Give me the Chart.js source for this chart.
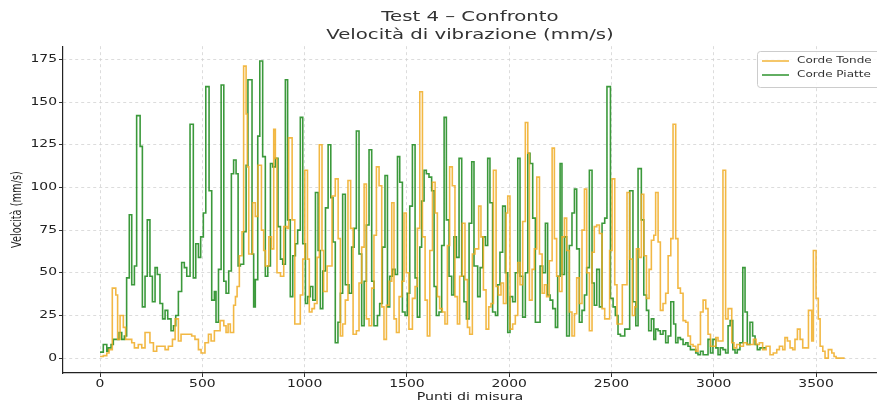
<!DOCTYPE html>
<html><head><meta charset="utf-8">
<script src="https://cdn.jsdelivr.net/npm/chart.js@4.4.1/dist/chart.umd.min.js"></script>
<style>html,body{margin:0;padding:0;background:#fff;overflow:hidden}</style>
</head><body>
<canvas id="c" width="877" height="407"></canvas>
<script>
const titleLines = ['Test 4 \u2013 Confronto', 'Velocit\u00e0 di vibrazione (mm/s)'];
const xTitle = 'Punti di misura';
const yTitle = 'Velocit\u00e0 (mm/s)';
const xTicks = [0, 500, 1000, 1500, 2000, 2500, 3000, 3500];
const yTicks = [0, 25, 50, 75, 100, 125, 150, 175];
const seriesNames = ['Corde Tonde', 'Corde Piatte'];

// Corde Tonde: step start positions and levels
const tondeX = [0,16,33,44,60,77,86,98,114,125,139,155,168,187,204,220,244,261,277,318,334,354,367,383,396,448,464,481,494,513,530,543,559,587,
605,616,626,637,653,662,670,681,694,702,714,720,727,746,759,772,789,800,808,825,838,849,857,865,882,898,914,922,939,952,979,991,1001,1014,1023,1036,1048,1061,1072,1085,1093,1110,1134,1150,1164,1175,1186,1199,1212,
1225,1237,1253,1266,1279,1291,1302,1315,1328,1339,1351,1364,1377,1388,1400,1413,1426,1437,1449,1462,1475,1486,1497,1510,1527,1540,1551,1563,1576,1589,1600,1612,1625,1638,1649,1660,1673,1686,1698,1709,1722,1735,1747,1758,1771,1784,1796,1807,1820,1833,
1851,1862,1874,1887,1900,1911,1923,1936,1947,1960,1972,1985,1993,2004,2017,2030,2042,2053,2066,2079,2091,2099,2112,2123,2135,2148,2161,2172,2183,2196,2210,2221,2232,2245,2258,2270,2281,2294,2307,2319,2330,2343,2356,2368,2379,2392,2405,2416,2428,2441,2454,
2467,2491,2503,2516,2527,2553,2576,2589,2602,2614,2622,2635,2646,2658,2671,2684,2695,2707,2716,2728,2739,2752,2765,2777,2790,2801,2814,2825,2837,2850,2863,2874,2886,2899,2912,2923,2935,2948,2961,2972,2984,2996,3010,3021,3045,3058,3070,
3088,3099,3112,3128,3145,3161,3194,3207,3223,3239,3256,3275,3291,3308,3321,3337,3348,3360,3373,3386,3397,3409,3422,3435,3463,3479,3487,3500,3511,3520,3533,3544,3560,3577,3588,3598,3640];
const tondeY = [1,1.5,3,5,41,37,11,25,18,11,11,9,6,8,6,15,9,4,7,5,7,11,23,10,14,13,11,5,3,9,14,10,16,22,
19,15,20,15,31,36,42,60,74,171,143,112,61,91,83,113,75,63,54,71,64,134,117,50,48,77,76,129,81,20,37,58,110,58,27,29,32,59,125,63,39,54,95,105,70,13,20,34,104,
76,14,16,44,65,102,23,19,41,72,112,101,30,11,31,45,91,23,15,36,45,85,50,17,35,42,76,156,71,34,13,63,103,85,36,29,27,20,66,112,101,36,20,48,79,46,18,14,61,64,
89,71,40,17,30,32,110,42,37,44,32,85,95,17,20,25,56,43,80,138,120,34,52,64,106,61,38,43,36,57,123,70,48,39,71,82,63,27,13,26,47,32,75,99,50,16,62,77,78,73,29,
23,63,105,43,20,43,97,58,25,30,64,59,96,60,35,52,69,72,97,68,28,32,38,60,70,137,70,41,38,22,21,13,8,7,4,8,27,34,29,14,7,7,12,10,110,23,29,
9,6,8,7,9,8,11,8,9,5,7,2,3,5,7,5,12,10,6,5,11,17,11,6,28,10,63,35,23,7,4,0,5,3,1,0,0];

// Corde Piatte: step start positions and levels
const piatteX = [0,16,33,41,54,65,93,106,119,130,143,155,168,179,196,207,220,231,244,256,269,280,293,306,318,331,347,359,370,383,399,412,424,440,456,468,481,492,505,517,533,546,559,567,579,592,
605,616,629,642,653,665,675,686,702,714,723,743,751,759,771,781,795,808,820,833,844,857,870,882,893,906,917,930,942,955,966,979,991,1004,1015,1028,1040,1053,1066,1077,1089,1102,1115,1128,1139,1150,1163,1175,1186,1199,
1217,1230,1242,1253,1266,1279,1291,1302,1315,1328,1339,1356,1367,1380,1393,1405,1416,1429,1442,1454,1465,1478,1491,1502,1514,1527,1540,1551,1563,1572,1584,1595,1608,1621,1633,1644,1657,1670,1682,1693,1706,1719,1730,1742,1755,1768,1779,1791,1804,1817,1828,
1846,1858,1871,1884,1895,1906,1919,1933,1944,1955,1968,1981,1993,2004,2017,2030,2042,2053,2066,2079,2091,2102,2115,2128,2139,2151,2164,2177,2188,2200,2213,2226,2237,2249,2258,2270,2281,2294,2307,2319,2330,2343,2356,2368,2379,2392,2405,2416,2428,2441,2454,
2467,2478,2495,2508,2519,2532,2544,2553,2565,2576,2589,2605,2619,2630,2646,2658,2671,2682,2695,2707,2716,2728,2739,2752,2765,2777,2790,2804,2814,2825,2837,2850,2863,2874,2886,2899,2912,2923,2935,2948,2961,2972,2984,2996,3010,3021,3032,3045,3058,3070,
3080,3093,3104,3115,3128,3142,3153,3164,3177,3190,3202,3213,3226,3255];
const piatteY = [3.5,8,4,6,8,11,15,11,13,47,84,43,54,142,124,30,48,81,48,33,53,49,32,23,28,23,16,19,25,39,56,53,48,137,47,67,59,71,85,159,98,34,39,21,52,160,
45,38,51,108,116,108,54,55,74,113,163,61,30,46,130,174,118,48,54,114,112,117,77,58,55,163,81,36,60,67,75,141,67,32,36,42,34,97,63,29,51,88,125,94,68,9,21,38,96,43,
38,65,76,133,61,19,45,78,122,45,19,25,32,65,107,30,48,52,49,118,103,27,25,38,89,125,47,24,65,92,110,108,106,98,42,25,27,66,141,81,48,37,71,59,117,48,33,23,79,115,54,
36,53,71,66,117,91,27,25,43,62,89,50,15,36,33,50,117,48,24,50,120,114,82,21,21,54,50,79,37,34,29,18,48,114,49,71,13,66,85,99,64,21,28,37,53,110,44,31,52,30,79,
82,159,35,30,25,14,13,13,17,17,98,33,19,111,81,37,28,16,23,11,17,16,14,16,9,13,33,20,9,12,11,8,9,7,5,5,3,2,4,2,2,11,3,11,6,2,6,5,3,19,
22,5,3,5,9,53,27,8,21,13,8,5,6,6];

// The reference text is stretched horizontally; emulate it when drawing text.
const STRETCH = 1.45;
(function () {
  const proto = CanvasRenderingContext2D.prototype;
  const origFill = proto.fillText, origMeasure = proto.measureText;
  proto.fillText = function (text, x, y, maxWidth) {
    const t = this.getTransform();
    this.save();
    this.translate(x, y);
    if (Math.abs(t.b) > Math.abs(t.a)) this.scale(1, STRETCH); else this.scale(STRETCH, 1);
    origFill.call(this, text, 0, 0);
    this.restore();
  };
  proto.measureText = function (text) {
    const m = origMeasure.call(this, text);
    return {
      width: m.width * STRETCH,
      actualBoundingBoxAscent: m.actualBoundingBoxAscent,
      actualBoundingBoxDescent: m.actualBoundingBoxDescent,
      actualBoundingBoxLeft: m.actualBoundingBoxLeft * STRETCH,
      actualBoundingBoxRight: m.actualBoundingBoxRight * STRETCH,
      fontBoundingBoxAscent: m.fontBoundingBoxAscent,
      fontBoundingBoxDescent: m.fontBoundingBoxDescent
    };
  };
})();

const toPts = (xs, ys) => xs.map((x, i) => ({x: x, y: ys[i]}));
const FONT = "'DejaVu Sans', sans-serif";
const colors = ['rgba(240,172,35,0.85)', 'rgba(25,135,25,0.85)'];

const legendBox = {
  id: 'legendBox',
  afterDraw(chart) {
    const ctx = chart.ctx;
    const x0 = 757, y0 = 51, w = 130, h = 36;
    ctx.save();
    ctx.fillStyle = 'rgba(255,255,255,0.85)';
    ctx.strokeStyle = '#cccccc';
    ctx.lineWidth = 1;
    ctx.beginPath();
    ctx.roundRect(x0 + 0.5, y0 + 0.5, w, h, 3);
    ctx.fill(); ctx.stroke();
    ctx.font = '8.3px ' + FONT;
    ctx.textBaseline = 'middle';
    ctx.textAlign = 'left';
    chart.data.datasets.forEach((ds, i) => {
      const yy = y0 + 10 + i * 14;
      ctx.strokeStyle = ds.borderColor;
      ctx.lineWidth = 1.6;
      ctx.beginPath(); ctx.moveTo(762, yy); ctx.lineTo(789, yy); ctx.stroke();
      ctx.fillStyle = '#333';
      ctx.fillText(ds.label, 797, yy);
    });
    ctx.restore();
  }
};

new Chart(document.getElementById('c'), {
  type: 'line',
  data: {
    datasets: [
      {label: seriesNames[0], data: toPts(tondeX, tondeY), borderColor: colors[0], borderWidth: 1.6, stepped: 'before', pointRadius: 0, fill: false},
      {label: seriesNames[1], data: toPts(piatteX, piatteY), borderColor: colors[1], borderWidth: 1.6, stepped: 'before', pointRadius: 0, fill: false}
    ]
  },
  options: {
    responsive: false,
    animation: false,
    devicePixelRatio: 1,
    layout: {padding: 0},
    plugins: {
      legend: {display: false},
      tooltip: {enabled: false},
      title: {
        display: true, text: titleLines, fullSize: false,
        font: {family: FONT, size: 13.6, weight: 'normal', lineHeight: 1.33},
        color: '#333', padding: {top: 8, bottom: 2}
      }
    },
    scales: {
      x: {
        type: 'linear', min: -181, max: 3798,
        afterBuildTicks: s => { s.ticks = xTicks.map(v => ({value: v})); },
        afterFit: s => { s.height = 34; },
        grid: {color: '#d4d4d4', lineWidth: 0.8, tickLength: 4, tickColor: '#333', tickWidth: 1},
        border: {display: true, color: '#222', width: 1.2, dash: [3, 3]},
        ticks: {font: {family: FONT, size: 9.6}, color: '#222', padding: 2, maxRotation: 0, callback: v => String(v)},
        title: {display: true, text: xTitle, font: {family: FONT, size: 9.8}, color: '#222', padding: {top: 0, bottom: 4}}
      },
      y: {
        type: 'linear', min: -8.7, max: 182.7,
        afterBuildTicks: s => { s.ticks = yTicks.map(v => ({value: v})); },
        afterFit: s => { s.width = 63; },
        grid: {color: '#d4d4d4', lineWidth: 0.8, tickLength: 4, tickColor: '#333', tickWidth: 1},
        border: {display: true, color: '#222', width: 1.2, dash: [3, 3]},
        ticks: {font: {family: FONT, size: 9.6}, color: '#222', padding: 2, callback: v => String(v)},
        title: {display: true, text: yTitle, font: {family: FONT, size: 9.8}, color: '#222', padding: {top: 11, bottom: 0}}
      }
    }
  },
  plugins: [legendBox]
});
</script>
</body></html>
